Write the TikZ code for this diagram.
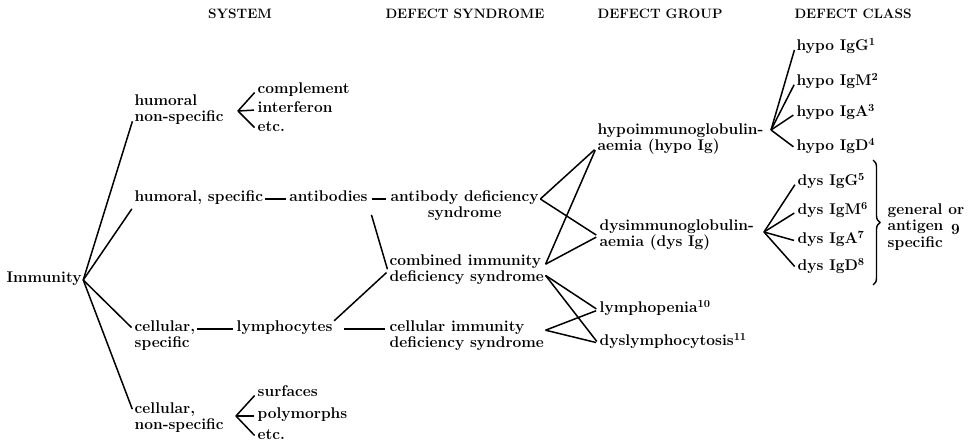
\documentclass[tikz,border=0pt]{standalone}
\usepackage{tikz}
\usetikzlibrary{positioning}
\usetikzlibrary{decorations.pathreplacing}
\tikzset{%
  tx/.style = {font=\fontsize{15.5}{16}\selectfont\bfseries, inner xsep=1.5pt,
        inner ysep=3pt, text height=7.5pt, text depth=2.5pt, anchor=west},
  hd/.style = {font=\fontsize{13.6}{15}\selectfont\bfseries, inner sep=2pt},
  ln/.style = {line width=1.5pt, shorten >=2pt},
  br/.style = {line width=1.4pt, decorate, decoration={brace, amplitude=7pt}}
}
\begin{document}
\begin{tikzpicture}[x=1pt,y=-1pt]
                            \useasboundingbox (0,0) rectangle (969,446);
                            % column heads
                            \node[hd] (sys) at (240,14) {SYSTEM};
                            \node[hd] (dsy) at (465,14) {DEFECT SYNDROME};
                            \node[hd] (dgr) at (660,14) {DEFECT GROUP};
                            \node[hd] (dcl) at (853,14) {DEFECT CLASS};

                            % system
                            \node[tx] (imm) at (5,280) {Immunity};
                            \node[tx] (hns1) at (133,103) {humoral};
                            \node[tx, anchor=north west] (hns2) at (hns1.south west) {non-specific};
                            \node[tx] (hs) at (133,199) {humoral, specific};
                            \node[tx] (cs1) at (133,329) {cellular,};
                            \node[tx, anchor=north west] (cs2) at (cs1.south west) {specific};
                            \node[tx] (cns1) at (133,411) {cellular,};
                            \node[tx, anchor=north west] (cns2) at (cns1.south west) {non-specific};

                            \node[tx] (comp) at (256,91) {complement};
                            \node[tx] (intf) at (256,110) {interferon};
                            \node[tx] (etc1) at (256,129) {etc.};
                            \node[tx] (surf) at (256,394) {surfaces};
                            \node[tx] (poly) at (256,416) {polymorphs};
                            \node[tx] (etc2) at (256,437) {etc.};
                            \coordinate (hnsf) at (238,111);
                            \coordinate (cnsf) at (236,416);

                            \node[tx, right=23pt of hs] (ab) {antibodies};
                            \node[tx] (ly) at (235,329) {lymphocytes};

                            % syndrome
                            \node[tx] (abd1) at (389,199) {antibody deficiency};
                            \node[tx, below=0pt of abd1] (abd2) {syndrome};
                            \node[tx] (cid1) at (388,263) {combined immunity};
                            \node[tx, anchor=north west] (cid2) at (cid1.south west) {deficiency syndrome};
                            \node[tx] (cii1) at (388,329) {cellular immunity};
                            \node[tx, anchor=north west] (cii2) at (cii1.south west) {deficiency syndrome};

                            % group
                            \node[tx] (hig1) at (596,132) {hypoimmunoglobulin-};
                            \node[tx, anchor=north west] (hig2) at (hig1.south west) {aemia (hypo Ig)};
                            \node[tx] (dig1) at (598,228) {dysimmunoglobulin-};
                            \node[tx, anchor=north west] (dig2) at (dig1.south west) {aemia (dys Ig)};
                            \node[tx] (lp) at (598,310) {lymphopenia\textsuperscript{10}};
                            \node[tx] (dl) at (598,343) {dyslymphocytosis\textsuperscript{11}};
                            \coordinate (higf) at (771,130);
                            \coordinate (digf) at (764,232);

                            % class
                            \node[tx] (hG) at (795,48) {hypo IgG\textsuperscript{1}};
                            \node[tx] (hM) at (795,83) {hypo IgM\textsuperscript{2}};
                            \node[tx] (hA) at (795,114) {hypo IgA\textsuperscript{3}};
                            \node[tx] (hD) at (795,148) {hypo IgD\textsuperscript{4}};
                            \node[tx] (dG) at (796,183) {dys IgG\textsuperscript{5}};
                            \node[tx] (dM) at (796,212) {dys IgM\textsuperscript{6}};
                            \node[tx] (dA) at (796,241) {dys IgA\textsuperscript{7}};
                            \node[tx] (dD) at (796,268) {dys IgD\textsuperscript{8}};
                            \coordinate (brt) at (873,160);
                            \coordinate (brb) at (873,285);
                            \node[tx] (gen1) at (886,212) {general or};
                            \node[tx, anchor=north west] (gen2) at (gen1.south west) {antigen\enspace\raisebox{-4pt}{9}};
                            \node[tx, anchor=north west] (gen3) at (gen2.south west) {specific};

                            \path[ln] (imm.east) edge (hns2.west)
                                    (imm.east) edge (hs.south west)
                                    (imm.east) edge (cs1.west)
                                    (imm.east) edge (cns1.west);
                            \path[ln] (hnsf) edge (comp.west) edge (intf.west) edge (etc1.west)
                                    (cnsf) edge (surf.west) edge (poly.west) edge (etc2.west);
                            \path[ln] (hs) edge (ab)
                                    (ab) edge[shorten <=3pt, shorten >=3pt] (abd1)
                                    (ab.south east) edge[shorten <=8pt] (cid1.south west)
                                    (cs1) edge (ly)
                                    (ly.north east) edge (cid1.south west)
                                    (ly) edge[shorten <=10pt, shorten >=3pt] (cii1);
                            \path[ln] (abd1.east) edge (hig2.west) edge (dig2.north west)
                                    ([yshift=7pt]cid2.north east) edge (hig2.west) edge (dig2.north west)
                                    ([yshift=4pt]cid2.east) edge (lp.west) edge (dl.west)
                                    ([yshift=7pt]cii2.north east) edge (lp.west) edge (dl.west);
                            \path[ln] (higf) edge (hG.west) edge (hM.west) edge (hA.west) edge (hD.west)
                                    (digf) edge (dG.west) edge (dM.west) edge (dA.west) edge (dD.west);
                            \draw[br] (brt) -- (brb);
\end{tikzpicture}
\end{document}
